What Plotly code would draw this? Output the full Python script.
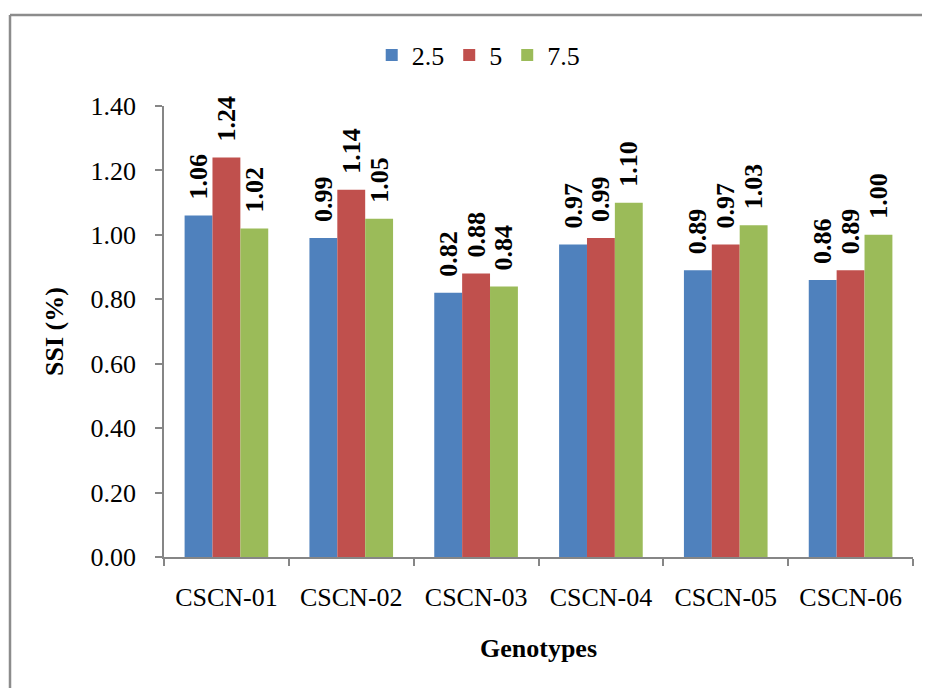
import plotly.graph_objects as go

genotypes = ["CSCN-01", "CSCN-02", "CSCN-03", "CSCN-04", "CSCN-05", "CSCN-06"]
series_names = ["2.5", "5", "7.5"]
vals_25 = [1.06, 0.99, 0.82, 0.97, 0.89, 0.86]
vals_5 = [1.24, 1.14, 0.88, 0.99, 0.97, 0.89]
vals_75 = [1.02, 1.05, 0.84, 1.10, 1.03, 1.00]
colors = ["#4F81BD", "#C0504D", "#9BBB59"]

FONT = "Liberation Serif, Times New Roman, serif"
FS = 26

fig = go.Figure()
for name, vals, col in zip(series_names, [vals_25, vals_5, vals_75], colors):
    fig.add_trace(go.Bar(
        x=genotypes, y=vals, name=name,
        marker=dict(color=col, line=dict(width=0)),
        text=["\u00a0\u00a0" + f"{v:.2f}" for v in vals],
        textposition="outside", textangle=-90,
        constraintext="none", cliponaxis=False,
        textfont=dict(family=FONT, size=FS, color="black", weight="bold"),
    ))

# page has an 8px body margin, so the figure is drawn 8px in from the corner
W, H = 922, 680
L, R, T, B = 156, 17, 98, 131
pw, ph = W - L - R, H - T - B
bx0 = (2 - L) / pw
by1 = (H - B - 7) / ph

fig.update_layout(
    width=W, height=H,
    margin=dict(l=L, r=R, t=T, b=B),
    barmode="group", bargap=0.33, bargroupgap=0,
    paper_bgcolor="white", plot_bgcolor="white",
    font=dict(family=FONT, size=FS, color="black"),
    legend=dict(orientation="h", x=0.51, xref="container", xanchor="center",
                y=1 - 47 / H, yref="container", yanchor="middle",
                font=dict(family=FONT, size=FS), itemwidth=30,
                traceorder="normal"),
    xaxis=dict(showline=True, linecolor="#868686", linewidth=1.5,
               ticks="outside", tickson="boundaries", ticklen=7,
               tickcolor="#868686", tickwidth=1.5, ticklabelstandoff=16,
               tickfont=dict(family=FONT, size=FS),
               title=dict(text="<b>Genotypes</b>", font=dict(family=FONT, size=FS), standoff=28)),
    yaxis=dict(range=[0, 1.40], dtick=0.2, tickformat=".2f",
               showline=True, linecolor="#868686", linewidth=1.5,
               ticks="outside", ticklen=7, tickcolor="#868686", tickwidth=1.5,
               ticklabelstandoff=14,
               showgrid=False, zeroline=False,
               tickfont=dict(family=FONT, size=FS),
               title=dict(text="<b>SSI (%)</b>", font=dict(family=FONT, size=FS), standoff=19)),
    shapes=[
        dict(type="line", xref="paper", yref="paper", x0=bx0, x1=1.2, y0=by1, y1=by1,
             line=dict(color="#8C8C8C", width=2.5)),
        dict(type="line", xref="paper", yref="paper", x0=bx0, x1=bx0, y0=by1, y1=-0.5,
             line=dict(color="#8C8C8C", width=2.5)),
    ],
)

fig.write_html("out.html")
